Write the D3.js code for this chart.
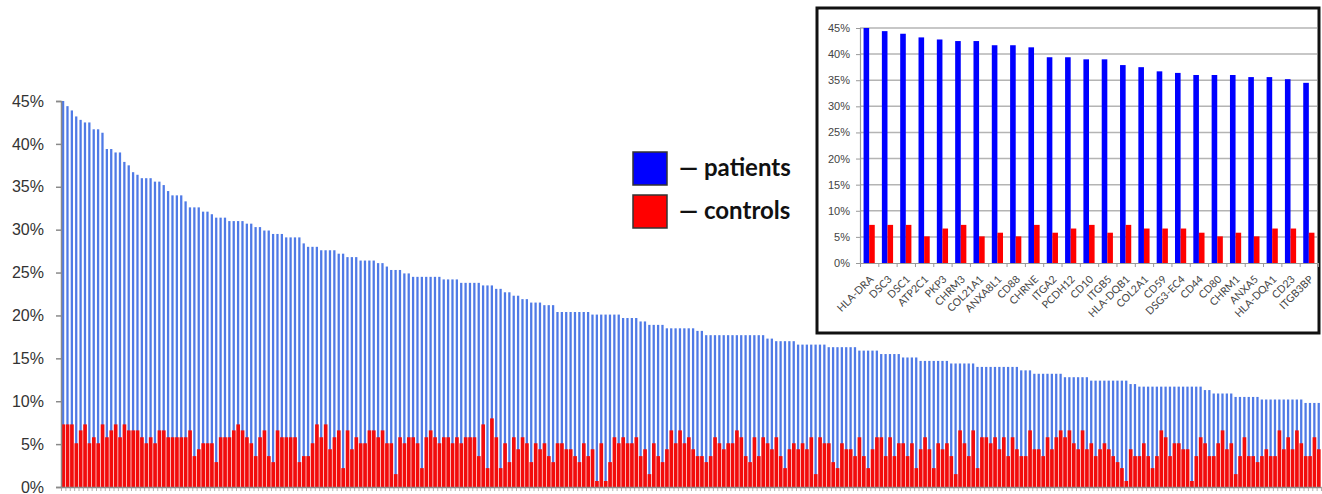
<!DOCTYPE html>
<html lang="en">
<head>
<meta charset="UTF-8">
<title>Patients vs controls</title>
<script src="https://cdn.jsdelivr.net/npm/d3@7"></script>
<style>
  body { margin: 0; background: #fff; }
  svg { display: block; font-family: Lato, "Open Sans", "Liberation Sans", sans-serif; }
</style>
</head>
<body>
<div id="chart"></div>
<script>
// percent positive, one entry per antigen, sorted by patients
const patients = [
  45.0, 44.4, 43.9, 43.2, 42.8, 42.5, 42.5, 41.7, 41.7, 41.3, 39.4, 39.4, 39.0, 39.0, 37.9, 37.5, 36.7, 36.4, 36.0, 36.0, 36.0, 35.6, 35.6, 35.2, 34.5,
  34.0, 34.0, 34.0, 33.3, 32.6, 32.6, 32.6, 32.1, 32.1, 31.8, 31.4, 31.4, 31.4, 31.0, 31.0, 31.0, 31.0, 30.7, 30.7, 30.3, 30.3,
  29.9, 29.9, 29.5, 29.5, 29.5, 29.1, 29.1, 29.1, 29.1, 28.4, 28.0, 28.0, 28.0, 27.6, 27.6, 27.6, 27.6, 27.2, 27.2, 26.8, 26.8, 26.8,
  26.4, 26.4, 26.4, 26.4, 26.1, 26.1, 25.7, 25.3, 25.3, 25.3, 24.9, 24.9,
  24.5, 24.5, 24.5, 24.5, 24.5, 24.5, 24.5, 24.2, 24.2, 24.2, 24.2, 23.8, 23.8, 23.8, 23.8, 23.8, 23.5, 23.5, 23.5, 23.1, 23.1,
  22.7, 22.7, 22.3, 22.3, 21.9, 21.9, 21.5, 21.5, 21.5, 21.2, 21.2, 21.2,
  20.4, 20.4, 20.4, 20.4, 20.4, 20.4, 20.4, 20.4, 20.1, 20.1, 20.1, 20.1, 20.1, 20.1, 20.1, 19.7, 19.7, 19.7, 19.7, 19.3, 19.3,
  18.9, 18.9, 18.9, 18.9, 18.5, 18.5, 18.5, 18.5, 18.5, 18.5, 18.5, 18.2, 18.2,
  17.7, 17.7, 17.7, 17.7, 17.7, 17.7, 17.7, 17.7, 17.7, 17.7, 17.7, 17.7, 17.7, 17.7, 17.3, 17.3, 17.0, 17.0, 17.0, 17.0, 17.0,
  16.6, 16.6, 16.6, 16.6, 16.6, 16.6, 16.6,
  16.3, 16.3, 16.3, 16.3, 16.3, 16.3, 16.3, 15.9, 15.9, 15.9, 15.9, 15.9, 15.5, 15.5, 15.5, 15.5, 15.5, 15.1, 15.1, 15.1, 15.1,
  14.7, 14.7, 14.7, 14.7, 14.7, 14.7, 14.7, 14.4, 14.4, 14.4, 14.4, 14.4, 14.4,
  14.0, 14.0, 14.0, 14.0, 14.0, 14.0, 14.0, 14.0, 14.0, 14.0, 13.6, 13.6, 13.6, 13.2, 13.2, 13.2, 13.2, 13.2, 13.2, 13.2,
  12.8, 12.8, 12.8, 12.8, 12.8, 12.8,
  12.4, 12.4, 12.4, 12.4, 12.4, 12.4, 12.4, 12.4, 12.4, 12.0, 12.0,
  11.7, 11.7, 11.7, 11.7, 11.7, 11.7, 11.7, 11.7, 11.7, 11.7, 11.7, 11.7, 11.7, 11.7, 11.7,
  11.3, 11.3, 10.9, 10.9, 10.9, 10.9, 10.9, 10.5, 10.5, 10.5, 10.5, 10.5, 10.5,
  10.2, 10.2, 10.2, 10.2, 10.2, 10.2, 10.2, 10.2, 10.2, 10.2, 9.8, 9.8, 9.8, 9.8
];
const controls = [
  7.3, 7.3, 7.3, 5.1, 6.6, 7.3, 5.1, 5.8, 5.1, 7.3, 5.8, 6.6, 7.3, 5.8, 7.3, 6.6, 6.6, 6.6, 5.8, 5.1, 5.8, 5.1, 6.6, 6.6, 5.8,
  5.8, 5.8, 5.8, 5.8, 6.6, 3.6, 4.4, 5.1, 5.1, 5.1, 2.9, 5.8, 5.8, 5.8, 6.6, 7.3, 6.6, 5.8,
  5.1, 3.6, 5.8, 6.6, 3.6, 2.9, 6.6, 5.8, 5.8, 5.8, 5.8, 2.9, 3.6, 3.6, 5.1, 7.3, 5.8, 7.3, 4.4, 5.8, 6.6, 2.2, 6.6, 4.4,
  5.8, 5.1, 5.1, 6.6, 6.6, 5.8, 6.6, 5.1, 5.1, 1.5, 5.8, 5.1, 5.8, 5.8, 5.1, 2.2, 5.8, 6.6, 5.8, 5.1, 5.8, 5.8, 5.1,
  5.8, 5.1, 5.8, 5.8, 5.8, 3.6, 7.3, 2.2, 8.0, 5.8, 2.2, 5.1, 2.9, 5.8, 4.4, 5.8, 5.1, 2.9, 5.1, 4.4, 5.1, 3.6,
  2.9, 5.1, 5.1, 4.4, 4.4, 3.6, 2.9, 5.1, 3.6, 4.4, 0.7, 5.1, 0.7, 2.9, 5.8, 5.1, 5.8, 5.1, 5.1, 5.8,
  3.6, 4.4, 1.5, 5.1, 3.6, 2.9, 4.4, 6.6, 5.1, 6.6, 5.1, 5.8, 4.4, 3.6, 3.6, 2.9, 3.6, 5.8, 5.1, 4.4,
  5.1, 5.1, 6.6, 5.8, 3.6, 2.9, 5.8, 3.6, 5.8, 5.1, 4.4, 5.8, 3.6, 2.2, 4.4, 5.1, 4.4, 5.1, 4.4, 5.8,
  1.5, 5.8, 5.1, 5.1, 2.9, 2.2,
  5.1, 4.4, 4.4, 3.6, 5.8, 3.6, 2.2, 4.4, 5.8, 5.8, 3.6, 5.8, 3.6, 5.1, 5.1, 3.6, 5.1, 2.2, 4.4, 5.8,
  4.4, 2.2, 5.1, 4.4, 5.1, 3.6, 1.5, 6.6, 5.1, 3.6, 6.6, 2.2, 5.8, 5.8, 5.1, 5.8, 4.4, 5.8, 3.6, 5.8,
  4.4, 3.6, 3.6, 6.6, 4.4, 4.4, 3.6, 5.8, 4.4, 5.8, 6.6, 5.8, 6.6, 5.1, 4.4,
  6.6, 4.4, 5.1, 3.6, 4.4, 5.1, 4.4, 3.6, 2.9, 2.2, 0.7, 4.4, 3.6, 3.6, 5.1, 3.6, 2.2, 3.6, 6.6, 5.8,
  3.6, 5.1, 5.1, 4.4, 4.4, 0.7, 3.6, 5.8, 5.1, 3.6, 3.6, 5.1, 6.6, 4.4, 5.1, 1.5, 3.6, 5.8, 3.6, 3.6,
  2.9, 3.6, 4.4, 3.6, 3.6, 6.6, 4.4, 5.8, 4.4, 6.6, 5.1, 3.6, 3.6, 5.8, 4.4
];

// inset: the top 25
const genes = ["HLA-DRA", "DSC3", "DSC1", "ATP2C1", "PKP3", "CHRM3", "COL21A1", "ANXA8L1", "CD88", "CHRNE",
  "ITGA2", "PCDH12", "CD10", "ITGB5", "HLA-DQB1", "COL2A1", "CD59", "DSG3-EC4", "CD44", "CD80",
  "CHRM1", "ANXA5", "HLA-DQA1", "CD23", "ITGB3BP"];
const genePatients = [45.0, 44.4, 43.9, 43.2, 42.8, 42.5, 42.5, 41.7, 41.7, 41.3, 39.4, 39.4, 39.0,
  39.0, 37.9, 37.5, 36.7, 36.4, 36.0, 36.0, 36.0, 35.6, 35.6, 35.2, 34.5];
const geneControls = [7.3, 7.3, 7.3, 5.1, 6.6, 7.3, 5.1, 5.8, 5.1, 7.3, 5.8, 6.6, 7.3,
  5.8, 7.3, 6.6, 6.6, 6.6, 5.8, 5.1, 5.8, 5.1, 6.6, 6.6, 5.8];

const yTicks = [0, 5, 10, 15, 20, 25, 30, 35, 40, 45];
const legendItems = [
  { label: "\u2014 patients", color: "#0000ff" },
  { label: "\u2014 controls", color: "#ff0000" }
];

const W = 1322, H = 494;
const svg = d3.select("#chart").append("svg")
  .attr("width", W).attr("height", H);

// ---- main chart ----
const n = patients.length;
const x = d3.scaleBand().domain(d3.range(n)).range([61, 1321]);
const xEdge = d3.scaleLinear().domain([0, n]).range([61, 1321]);
const y = d3.scaleLinear().domain([0, 45]).range([487, 101]);
const bw = x.bandwidth();

const main = svg.append("g");

main.selectAll("rect.pat")
  .data(patients)
  .join("rect")
  .attr("class", "pat")
  .attr("x", (d, i) => x(i) + bw * 0.22)
  .attr("width", bw * 0.52)
  .attr("y", d => y(d))
  .attr("height", d => y(0) - y(d))
  .attr("fill", "#4f7ae6");

main.selectAll("rect.ctl")
  .data(controls)
  .join("rect")
  .attr("class", "ctl")
  .attr("x", (d, i) => x(i) + bw * 0.08)
  .attr("width", bw * 0.84)
  .attr("y", d => y(d))
  .attr("height", d => y(0) - y(d))
  .attr("fill", "#f20c0c");

const yAxis = main.append("g")
  .attr("transform", "translate(61,0)")
  .call(d3.axisLeft(y).tickValues(yTicks).tickFormat(d => d + "%").tickSize(5).tickPadding(12));
yAxis.select(".domain").attr("stroke", "#8a8a8a").attr("stroke-width", 1.5);
yAxis.selectAll(".tick line").attr("stroke", "#8a8a8a").attr("stroke-width", 1.5);
yAxis.selectAll("text").attr("font-size", 16).attr("fill", "#333");

const xAxis = main.append("g")
  .attr("transform", "translate(0,487)")
  .call(d3.axisBottom(xEdge).tickValues(d3.range(n + 1)).tickFormat("").tickSize(4).tickSizeOuter(0));
xAxis.select(".domain").attr("stroke", "#8a8a8a").attr("stroke-width", 1.5);
xAxis.selectAll(".tick line").attr("stroke", "#999").attr("stroke-width", 0.8);

// ---- legend ----
const legend = svg.append("g").attr("transform", "translate(633,152)");
legend.selectAll("rect")
  .data(legendItems)
  .join("rect")
  .attr("x", 0)
  .attr("y", (d, i) => i * 43)
  .attr("width", 34)
  .attr("height", 33)
  .attr("fill", d => d.color)
  .attr("stroke", "#333")
  .attr("stroke-width", 1.5);
legend.selectAll("text")
  .data(legendItems)
  .join("text")
  .attr("x", 46)
  .attr("y", (d, i) => i * 43 + 24)
  .attr("font-size", 24)
  .attr("font-weight", "bold")
  .attr("fill", "#111")
  .text(d => d.label);

// ---- inset ----
const inset = svg.append("g");
inset.append("rect")
  .attr("x", 817).attr("y", 8)
  .attr("width", 502).attr("height", 325)
  .attr("fill", "#fff")
  .attr("stroke", "#111")
  .attr("stroke-width", 3);

const ix = d3.scaleBand().domain(genes).range([860, 1318]);
const ixEdge = d3.scaleLinear().domain([0, genes.length]).range([860, 1318]);
const iy = d3.scaleLinear().domain([0, 45]).range([263, 28]);
const ibw = ix.bandwidth();

inset.selectAll("line.grid")
  .data(yTicks.filter(d => d > 0))
  .join("line")
  .attr("class", "grid")
  .attr("x1", 860).attr("x2", 1317)
  .attr("y1", d => iy(d)).attr("y2", d => iy(d))
  .attr("stroke", "#b4b4b4")
  .attr("stroke-width", 1.5);

inset.selectAll("rect.gp")
  .data(genePatients)
  .join("rect")
  .attr("class", "gp")
  .attr("x", (d, i) => ix(genes[i]) + ibw / 2 - 5.6)
  .attr("width", 5.6)
  .attr("y", d => iy(d))
  .attr("height", d => iy(0) - iy(d))
  .attr("fill", "#0000ff");

inset.selectAll("rect.gc")
  .data(geneControls)
  .join("rect")
  .attr("class", "gc")
  .attr("x", (d, i) => ix(genes[i]) + ibw / 2)
  .attr("width", 5.6)
  .attr("y", d => iy(d))
  .attr("height", d => iy(0) - iy(d))
  .attr("fill", "#ff0000");

const iyAxis = inset.append("g")
  .attr("transform", "translate(860,0)")
  .call(d3.axisLeft(iy).tickValues(yTicks).tickFormat(d => d + "%").tickSize(4).tickPadding(6));
iyAxis.select(".domain").attr("stroke", "#999").attr("stroke-width", 1.2);
iyAxis.selectAll(".tick line").attr("stroke", "#999");
iyAxis.selectAll("text").attr("font-size", 11).attr("fill", "#444");

const ixAxis = inset.append("g")
  .attr("transform", "translate(0,263)")
  .call(d3.axisBottom(ixEdge).tickValues(d3.range(genes.length + 1)).tickFormat("").tickSize(4).tickSizeOuter(0));
ixAxis.select(".domain").attr("stroke", "#999").attr("stroke-width", 1.2);
ixAxis.selectAll(".tick line").attr("stroke", "#999");

inset.selectAll("text.gene")
  .data(genes)
  .join("text")
  .attr("class", "gene")
  .attr("transform", d => `translate(${ix(d) + ibw / 2 + 5},${280}) rotate(-45)`)
  .attr("text-anchor", "end")
  .attr("font-size", 10.5)
  .attr("fill", "#444")
  .text(d => d);
</script>
</body>
</html>
